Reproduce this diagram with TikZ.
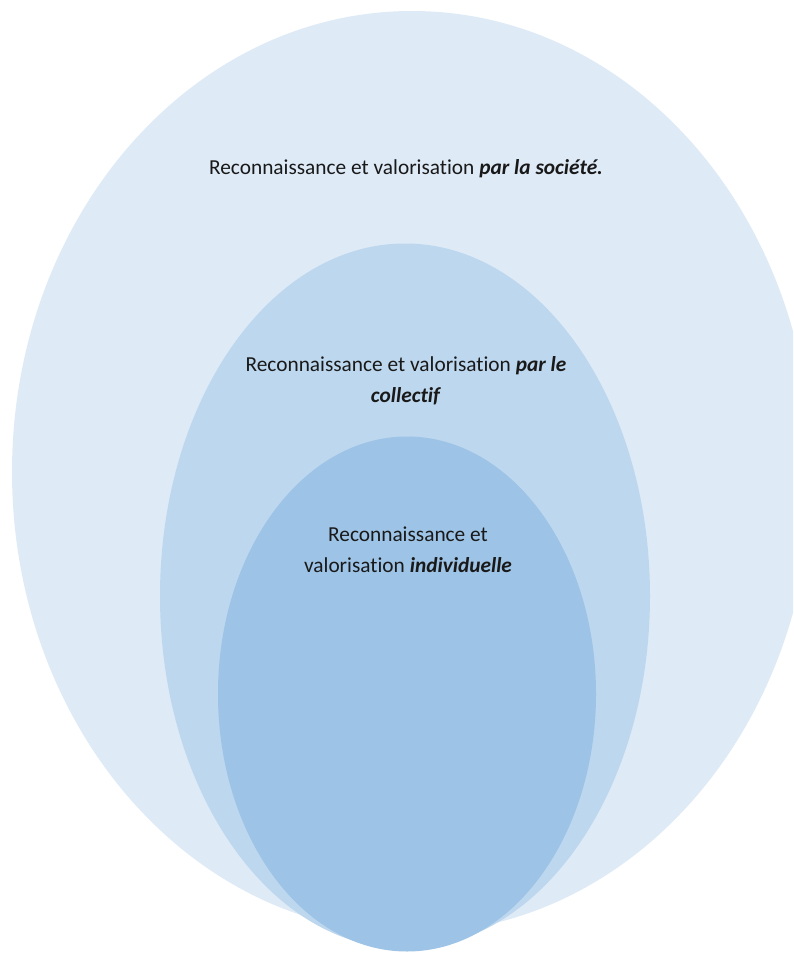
\documentclass[tikz,border=0pt]{standalone}
\usepackage{fontspec}
\setmainfont{Carlito}[Ligatures=NoCommon]
\usetikzlibrary{shapes.geometric}
\definecolor{outerblue}{HTML}{DEEAF6}
\definecolor{midblue}{HTML}{BDD7EE}
\definecolor{innerblue}{HTML}{9DC3E6}
\tikzset{
  blob/.style={ellipse, inner sep=0pt, draw=none},
  lbl/.style={font=\fontsize{16}{23.25}\selectfont, text=black!90, align=center, inner sep=0pt, anchor=base},
}
\begin{document}
\begin{tikzpicture}[x={(0.75pt,0)}, y={(0,-0.75pt)}]
\useasboundingbox (0,0) rectangle (793,956);
\clip (0,0) rectangle (793,956);
\node[blob, fill=outerblue, minimum width=800*0.75pt, minimum height=922*0.75pt] (outer) at (412,472) {};
\node[blob, fill=midblue, minimum width=490*0.75pt, minimum height=705*0.75pt] (middle) at (405,596) {};
\node[blob, fill=innerblue, minimum width=378*0.75pt, minimum height=515*0.75pt] (inner) at (407,694) {};
\node[lbl] (tsoc) at (406,174) {Reconnaissance et valorisation \textbf{\textit{par la société.}}};
\node[lbl] (tcol) at (406,402) {Reconnaissance et valorisation \textbf{\textit{par le}}\\ \textbf{\textit{collectif}}};
\node[lbl] (tind) at (408,572) {Reconnaissance et\\ valorisation \textbf{\textit{individuelle}}};
\end{tikzpicture}
\end{document}
